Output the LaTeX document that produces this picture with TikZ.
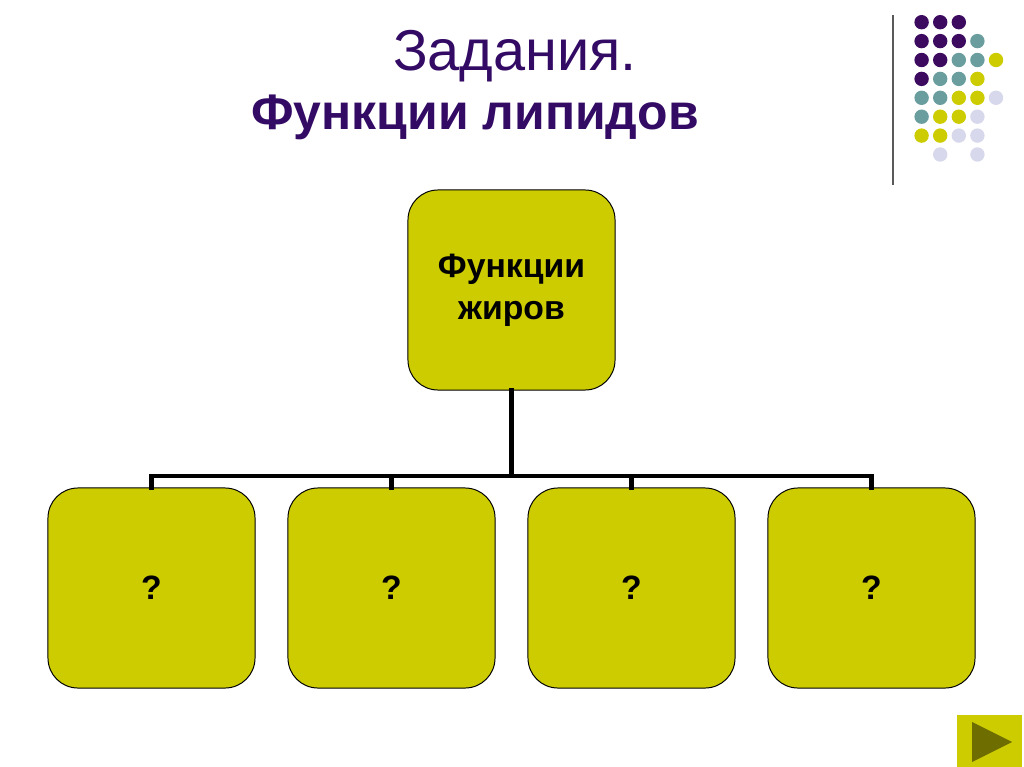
\documentclass[tikz,border=0pt]{standalone}
\usepackage{fontspec}
\setmainfont{Liberation Sans}
\usepackage{tikz}
\usetikzlibrary{positioning}
\definecolor{titlepurple}{RGB}{51,10,100}
\definecolor{olivebox}{RGB}{204,204,0}
\definecolor{darkolive}{RGB}{110,110,0}
\definecolor{P}{RGB}{60,10,95}
\definecolor{T}{RGB}{106,158,158}
\definecolor{Y}{RGB}{204,204,0}
\definecolor{L}{RGB}{216,216,236}
\tikzset{
  fbox/.style={draw=black, line width=0.7pt, fill=olivebox, rounded corners=0.75cm,
    minimum width=5.175cm, minimum height=5cm, align=center,
    font=\bfseries\fontsize{24}{30}\selectfont},
  link/.style={line width=3.5pt, line cap=rect},
  dot/.style={circle, inner sep=0pt, minimum size=0.36cm}
}
\begin{document}
\begin{tikzpicture}[x=0.025cm, y=-0.025cm]
\useasboundingbox (0,0) rectangle (1024,767);
%
\node(task) at (515,56) {\textcolor{titlepurple}{\fontsize{41}{41}\selectfont Задания.}};
\node(title) at (475,117) {\textcolor{titlepurple}{\bfseries\fontsize{35.5}{35.5}\selectfont Функции липидов}};
%
\draw[gray!70!black, line width=1pt](893,15) -- (893,185);
\foreach \row/\cols in {1/{P,P,P,none,none}, 2/{P,P,P,T,none}, 3/{P,P,T,T,Y}, 4/{P,T,T,Y,none},
                        5/{T,T,Y,Y,L}, 6/{T,Y,Y,L,none}, 7/{Y,Y,L,L,none}, 8/{none,L,none,L,none}} {
  \foreach \c [count=\k] in \cols {
    \node[dot, fill=\c](d\row\k) at ({903+18.6*\k},{3.3+18.9*\row}) {};
  }
}
%
\node[fbox](fat) at (511.5,290) {Функции\\жиров};
%
\node[fbox](q1) at (151.5,588) {?};
\node[fbox](q2) at (391.5,588) {?};
\node[fbox](q3) at (631.5,588) {?};
\node[fbox](q4) at (871.5,588) {?};
%
\coordinate(hub) at (511.5,476);
\draw[link](fat.south) -- (hub);
\draw[link](hub) -| (q1.north);
\draw[link](hub) -| (q2.north);
\draw[link](hub) -| (q3.north);
\draw[link](hub) -| (q4.north);
%
\node[fill=olivebox, minimum width=1.625cm, minimum height=1.3cm, inner sep=0pt](next) at (989.5,741) {};
\fill[darkolive](972,722) -- (1012,742) -- (972,762) -- cycle;
\end{tikzpicture}
\end{document}
